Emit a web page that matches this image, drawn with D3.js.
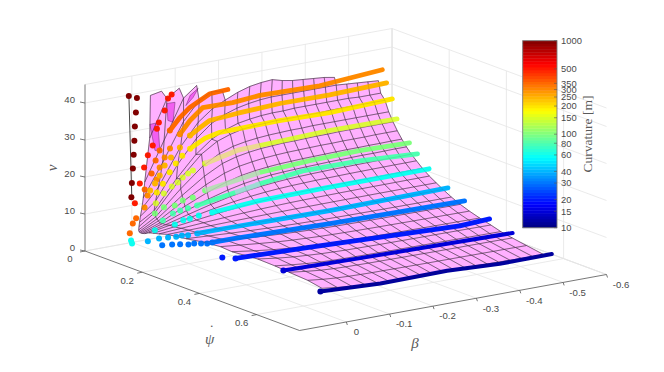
<!DOCTYPE html>
<html><head><meta charset="utf-8">
<script src="https://cdn.jsdelivr.net/npm/d3@7"></script>
<style>html,body{margin:0;background:#fff}svg{display:block}text{font-family:"Liberation Sans",Arial,sans-serif}</style>
</head><body><svg id="c" width="664" height="372"></svg>
<script>
// ---- axis ticks ----
const betaTicks=[0,-0.1,-0.2,-0.3,-0.4,-0.5,-0.6];
const betaLabels=["0","-0.1","-0.2","-0.3","-0.4","-0.5","-0.6"];
const psiTicks=[0,0.2,0.4,0.6];
const vTicks=[0,10,20,30,40];
const cbTicks=[10,15,20,30,40,60,80,100,150,200,250,300,350,500,1000];

// ---- measured tracks: [beta, yaw rate, v], one list per curvature ----
const r1000=[[.034,.041,41.5],[.015,.0405,40.5],[.0147,.0365,36.5],[.0145,.0326,32.6],[.013,.0286,28.6],[.012,.0247,24.7],[.0113,.0208,20.8],[.011,.0168,16.8],[.0095,.0128,12.8]];
const r500=[[.008,.0228,11.4],[.004,.034,17],[0,.043,21.5],[-.004,.05,24.9],[-.012,.055,27.5],[-.015,.065,32.3],[-.0175,.068,34],[-.027,.074,37.2],[-.03,.081,40.6],[-.037,.083,41.6]];
const r350=[[.01,.008,2.9],[.009,.017,5.8],[.004,.021,7.2],[0,.045,15.6],[-.008,.057,20.1],[-.01,.068,23.9],[-.014,.076,26.7],[-.027,.092,32.3],[-.044,.102,35.8],[-.062,.109,38.3],[-.102,.118,41.4],[-.143,.119,41.7]];
const r300=[[-.007,.034,10.3],[-.006,.046,13.9],[-.017,.061,18.4],[-.016,.073,22],[-.021,.083,24.9],[-.028,.091,27.4],[-.042,.104,31.3],[-.057,.117,35.1],[-.079,.128,38.4],[-.148,.128,38.3],[-.209,.13,39],[-.348,.129,38.6],[-.49,.133,40]];
const r250=[[0,.064,15.9],[-.006,.072,17.9],[-.011,.081,20.2],[-.015,.092,23.1],[-.023,.102,25.4],[-.037,.112,28.1],[-.051,.126,31.4],[-.069,.134,33.4],[-.087,.14,35.1],[-.148,.143,35.8],[-.245,.146,36.5],[-.36,.146,36.4],[-.49,.148,36.9]];
const r200=[[-.006,.078,15.6],[-.011,.092,18.3],[-.016,.108,21.7],[-.021,.122,24.4],[-.028,.134,26.7],[-.04,.143,28.6],[-.066,.156,31.2],[-.097,.161,32.3],[-.233,.163,32.6],[-.35,.161,32.2],[-.492,.165,33]];
const r150=[[.002,.087,13.1],[-.002,.109,16.3],[-.011,.123,18.4],[-.02,.13,19.5],[-.025,.14,21],[-.032,.148,22.2],[-.04,.153,23],[-.06,.165,24.8],[-.122,.183,27.5],[-.173,.185,27.8],[-.33,.19,28.6],[-.487,.189,28.4]];
const r100=[[.024,.117,11.7],[.017,.138,13.8],[-.008,.138,13.8],[-.016,.154,15.4],[-.035,.16,16],[-.049,.182,18.2],[-.15,.22,22],[-.257,.233,23.3],[-.369,.237,23.7],[-.488,.231,23.1]];
const r80=[[.007,.119,9.5],[.008,.156,12.5],[0,.169,13.5],[-.016,.172,13.8],[-.031,.181,14.5],[-.09,.225,18],[-.137,.24,19.8],[-.23,.25,21.6],[-.357,.255,21.7],[-.49,.256,20.8]];
const r60=[[.015,.02,1.4],[.016,.025,.8],[.028,.123,7.4],[.005,.158,9.5],[.012,.198,11.9],[.004,.209,12.5],[0,.234,14],[-.027,.24,14.4],[-.104,.29,17.4],[-.252,.3,18],[-.489,.298,18]];
const r40=[[.029,.1,3.8],[.023,.13,5.3],[.022,.16,6.4],[.023,.19,7.5],[.023,.21,8.4],[.022,.23,9],[.014,.25,9.9],[-.037,.288,11.5],[-.232,.34,13.4],[-.485,.37,15]];
const r30=[[.048,.179,5.4],[.037,.197,5.9],[.039,.228,6.85],[.041,.26,7.8],[.029,.262,7.86],[.031,.289,8.67],[.032,.312,9.36],[.019,.31,9.3],[-.03,.316,9.5],[-.215,.367,11],[-.499,.407,12.2]];
const r20=[[.038,.374,7.48],[.034,.414,8.28],[-.114,.44,8.8],[-.418,.513,10.26],[-.498,.496,9.92]];
const r15=[[.008,.542,8.13],[-.165,.559,8.39],[-.349,.573,8.6],[-.493,.584,8.76]];
const r10=[[.019,.688,6.88],[-.103,.713,7.13],[-.26,.708,7.08],[-.367,.73,7.3],[-.489,.727,7.27]];
const trackR=[1000,500,350,300,250,200,150,100,80,60,40,30,20,15,10];
const tracks=[r1000,r500,r350,r300,r250,r200,r150,r100,r80,r60,r40,r30,r20,r15,r10];
// index where a track's samples become too dense to separate
const denseFrom=[99,99,7,6,6,5,7,5,4,7,6,7,1,0,0];
// stretches of a track that run just beneath the surface: [track index, from sample, to sample]
const hiddenStretch=[[6,7,9],[7,5,6],[8,5,6]];
const edgeLine=[[.033,.04,41],[.008,.012,12.7]];

// ---- surface: one row per curvature, yaw rate per beta column ----
const surfBeta=[0,-.025,-.05,-.075,-.1,-.125,-.15,-.175,-.2,-.225,-.25,-.275,-.3,-.325,-.35,-.375,-.4,-.425,-.45,-.475];
const surfR=[640,480,390,330,290,265,230,200,170,145,125,108,94,82,72,62,53,46,40,34,29,25,21.5,18.5,16,14,12,10];
const surfPsi=[
[.065,.066],
[.0625,.085,.09],
[.045,.075,.105,.113],
[.04,.07,.105,.122,.128,.127],
[.035,.055,.095,.118,.13,.137,.143,.147,.149,.15,.147,.145,.144,.143,.142,.14],
[.03,.045,.085,.112,.127,.135,.14,.143,.145,.146,.146,.146,.146,.146,.146,.146,.145,.144,.143,.142],
[.027,.04,.08,.11,.128,.138,.144,.147,.149,.15,.15,.151,.151,.151,.151,.151,.151,.15,.15,.15],
[.025,.045,.095,.13,.147,.155,.16,.162,.163,.164,.164,.164,.164,.164,.165,.165,.165,.165,.165,.165],
[.024,.045,.095,.135,.155,.165,.17,.173,.175,.176,.177,.177,.178,.178,.178,.178,.178,.178,.178,.178],
[.025,.05,.1,.14,.165,.176,.182,.186,.188,.19,.19,.191,.192,.192,.193,.193,.193,.193,.193,.193],
[.028,.055,.105,.145,.172,.186,.193,.198,.201,.203,.204,.205,.206,.206,.207,.207,.207,.208,.208,.208],
[.032,.06,.11,.15,.178,.195,.204,.21,.214,.216,.218,.219,.22,.221,.222,.222,.223,.223,.224,.224],
[.037,.07,.115,.155,.184,.203,.214,.222,.226,.229,.231,.233,.235,.236,.237,.238,.238,.239,.24,.24],
[.045,.08,.122,.162,.192,.212,.225,.234,.24,.244,.247,.249,.251,.252,.253,.254,.255,.256,.256,.257],
[.06,.095,.135,.175,.205,.226,.24,.25,.256,.26,.264,.266,.268,.27,.271,.272,.273,.274,.274,.275],
[.075,.11,.15,.19,.22,.243,.258,.268,.275,.28,.284,.286,.288,.29,.291,.292,.293,.294,.295,.296],
[.095,.135,.175,.21,.24,.262,.277,.288,.295,.3,.304,.307,.31,.312,.314,.315,.316,.318,.319,.32],
[.125,.16,.2,.235,.262,.283,.298,.309,.316,.322,.326,.33,.333,.335,.337,.339,.34,.342,.343,.344],
[.15,.19,.23,.262,.288,.307,.32,.33,.338,.344,.349,.353,.356,.358,.36,.362,.364,.366,.367,.368],
[.19,.23,.27,.3,.323,.34,.352,.362,.37,.375,.38,.383,.386,.388,.39,.392,.393,.395,.396,.397],
[.25,.29,.325,.35,.37,.385,.395,.403,.41,.413,.416,.418,.42,.422,.423,.424,.425,.426,.427,.428],
[.31,.34,.37,.395,.41,.42,.43,.435,.44,.443,.446,.448,.45,.452,.454,.455,.456,.457,.459,.46],
[.35,.39,.42,.44,.455,.465,.47,.475,.478,.481,.483,.485,.487,.488,.49,.491,.492,.493,.495,.496],
[.44,.47,.49,.5,.51,.515,.52,.522,.524,.526,.527,.528,.529,.53,.53,.531,.532,.533,.534,.535],
[.5,.52,.535,.545,.55,.553,.555,.557,.558,.56,.561,.562,.563,.564,.565,.566,.567,.568,.569,.57],
[.55,.57,.585,.592,.596,.598,.6,.601,.602,.603,.604,.605,.606,.606,.607,.607,.608,.608,.609,.61],
[.615,.63,.64,.645,.648,.65,.651,.652,.653,.654,.655,.655,.656,.656,.657,.657,.658,.658,.659,.66],
[.665,.68,.695,.705,.71,.712,.71,.709,.709,.708,.708,.708,.709,.71,.712,.714,.716,.718,.719,.72]];
const folds=[
[[0,.063,33.7],[0,.091,35],[0,.098,27.7],[0,.081,27.2]],
[[0,.123,41.1],[0,.151,42.2],[0,.144,36.6],[0,.126,36.6]],
[[0,.189,42.4],[0,.214,45.3],[0,.232,48.3],[0,.204,45.6]]];

// ---- projection built from d3 scales ----
const psiX=d3.scaleLinear().domain([0,.75]).range([0,214.5]);
const psiY=d3.scaleLinear().domain([0,.75]).range([0,79.5]);
const betX=d3.scaleLinear().domain([0.108,-.6]).range([85,392]);
const betY=d3.scaleLinear().domain([0.108,-.6]).range([251,195]);
const vY=d3.scaleLinear().domain([0,45]).range([0,166.5]);
const P=(b,p,v)=>[betX(b)+psiX(p),betY(b)+psiY(p)-vY(v)];
const PT=t=>P(t[0],t[1],t[2]);
const line=d3.line();

const jet=t=>{const f=c=>Math.round(255*Math.max(0,Math.min(1,1.5-Math.abs(4*t-c))));
  return `rgb(${f(3)},${f(2)},${f(1)})`;};
const logT=d3.scaleLog().domain([10,1000]).range([0,1]);

const svg=d3.select("#c");
const BMAX=0.108,BMIN=-.6,PMAX=.75,VMAX=45;
const SURF="#ffb0ff";
const grid=svg.append("g").attr("stroke","#e4e4e4").attr("stroke-width",.8).attr("fill","none");
const seg=(a,b)=>{grid.append("path").attr("d",line([a,b]));};
// back wall, side wall, floor
betaTicks.forEach(b=>{seg(P(b,0,0),P(b,0,VMAX));seg(P(b,0,0),P(b,PMAX,0));});
psiTicks.forEach(p=>{seg(P(BMIN,p,0),P(BMIN,p,VMAX));seg(P(BMAX,p,0),P(BMIN,p,0));});
vTicks.forEach(v=>{seg(P(BMAX,0,v),P(BMIN,0,v));seg(P(BMIN,0,v),P(BMIN,PMAX,v));});
seg(P(BMIN,0,0),P(BMIN,0,VMAX));seg(P(BMIN,0,0),P(BMIN,PMAX,0));seg(P(BMAX,0,VMAX),P(BMIN,0,VMAX));seg(P(BMIN,0,VMAX),P(BMIN,PMAX,VMAX));

// axes
const ax=svg.append("g").attr("stroke","#555").attr("stroke-width",.8).attr("fill","none");
ax.append("path").attr("d",line([P(BMAX,0,0),P(BMAX,0,VMAX)]));
ax.append("path").attr("d",line([P(BMAX,0,0),P(BMAX,PMAX,0)]));
ax.append("path").attr("d",line([P(BMAX,PMAX,0),P(BMIN,PMAX,0)]));
const lab=svg.append("g").attr("fill","#4a4a4a").attr("font-size",9.6);
vTicks.forEach(v=>{const p=P(BMAX,0,v);
  ax.append("path").attr("d",line([[p[0]-5,p[1]-1],p]));
  lab.append("text").attr("x",p[0]-10).attr("y",p[1]-3).attr("dy",".35em").attr("text-anchor","end").text(v);});
psiTicks.forEach(t=>{const p=P(BMAX,t,0);
  ax.append("path").attr("d",line([[p[0]-5,p[1]+1],p]));
  lab.append("text").attr("x",p[0]-15).attr("y",p[1]+8).attr("dy",".35em").attr("text-anchor","middle").text(t);});
betaTicks.forEach((b,i)=>{const p=P(b,PMAX,0);
  ax.append("path").attr("d",line([p,[p[0]+1,p[1]+3]]));
  lab.append("text").attr("x",p[0]+(i?14.5:10)).attr("y",p[1]+10).attr("dy",".35em").attr("text-anchor","middle").text(betaLabels[i]);});
const ser=svg.append("g").attr("font-style","italic").attr("fill","#5a5a5a").attr("font-size",15);
const serif="font-family:'Liberation Serif'";
const psiLabel=ser.append("text").attr("x",205).attr("y",344).attr("style",serif);
psiLabel.append("tspan").text("\u03C8");
psiLabel.append("tspan").attr("dx",-6).attr("dy",-9).text("\u02D9");
ser.append("text").attr("x",415).attr("y",348).attr("text-anchor","middle").attr("style",serif).text("\u03B2");
ser.append("text").attr("transform","translate(57,168) rotate(-90)").attr("text-anchor","middle").attr("style",serif).text("v");

// surface
const node=(j,i)=>P(surfBeta[i],surfPsi[j][i],surfR[j]*surfPsi[j][i]);
const surf=svg.append("g");
for(let j=0;j<surfPsi.length-1;j++)for(let i=0;i<surfPsi[j].length-1;i++){
  surf.append("path").attr("d",line([node(j,i),node(j,i+1),node(j+1,i+1),node(j+1,i)])+"Z")
    .attr("fill",SURF).attr("stroke",SURF).attr("stroke-width",.3);
}
// jagged upper-row fragments that stick out past the last full row
folds.forEach(f=>surf.append("path").attr("d",line(f.map(PT))+"Z").attr("fill","#f050ee").attr("fill-opacity",.85).attr("stroke","#6a2a6a").attr("stroke-width",.5));
const drawMesh=(parent,op)=>{
  const m=parent.append("g").attr("fill","none").attr("stroke","#3c2a3c").attr("stroke-width",.75).attr("stroke-opacity",op);
  surfPsi.forEach((row,j)=>m.append("path").attr("d",line(row.map((_,i)=>node(j,i)))));
  surfBeta.forEach((_,i)=>{const pts=[];surfPsi.forEach((row,j)=>{if(row.length>i)pts.push(node(j,i));});
    m.append("path").attr("d",line(pts));});
};
drawMesh(svg,.8);

// tracks
svg.append("path").attr("d",line(edgeLine.map(PT))).attr("stroke","#333").attr("stroke-width",.9).attr("fill","none");
const tr=svg.append("g");
tracks.forEach((t,k)=>{
  const col=jet(Math.max(logT(trackR[k]),.03));const thin=trackR[k]<=15;
  const g=tr.append("g").attr("opacity",trackR[k]===150?.9:1);
  if(denseFrom[k]<t.length){
    g.append("path").attr("d",line(t.slice(denseFrom[k]).map(PT))).attr("fill","none").attr("stroke",col)
     .attr("stroke-width",thin?4:4.8).attr("stroke-linecap","round").attr("stroke-linejoin","round");
  }
  g.selectAll("circle").data(t.slice(0,denseFrom[k]+1)).join("circle")
    .attr("cx",d=>PT(d)[0]).attr("cy",d=>PT(d)[1]).attr("r",3).attr("fill",col);
});
hiddenStretch.forEach(([k,a,b])=>{
  tr.append("path").attr("d",line(tracks[k].slice(a,b+1).map(PT))).attr("fill","none")
    .attr("stroke",SURF).attr("stroke-opacity",.45).attr("stroke-width",5.2);
});
drawMesh(svg,.16);

// colour bar
const cbY=d3.scaleLog().domain([10,1000]).range([227.7,40.7]);
const cb=svg.append("g");
const steps=d3.range(64);
cb.selectAll("rect").data(steps).join("rect")
  .attr("x",522.7).attr("width",34.3)
  .attr("y",d=>227.7-(d+1)*187/64).attr("height",187/64+.4)
  .attr("fill",d=>jet((d+.5)/64));
cb.append("rect").attr("x",522.7).attr("y",40.7).attr("width",34.3).attr("height",187).attr("fill","none").attr("stroke","#7a7a7a").attr("stroke-width",.9);
cbTicks.forEach(t=>{const y=cbY(t);
  cb.append("line").attr("x1",554).attr("x2",557).attr("y1",y).attr("y2",y).attr("stroke","#555").attr("stroke-width",.6);
  cb.append("text").attr("x",561).attr("y",y).attr("dy",".35em").attr("font-size",9.4).attr("fill","#4a4a4a").text(t);});
svg.append("text").attr("transform","translate(592,134) rotate(-90)").attr("text-anchor","middle")
  .attr("style",serif).attr("font-size",13.5).attr("fill","#5a5a5a").text("Curvature [m]");
</script></body></html>
